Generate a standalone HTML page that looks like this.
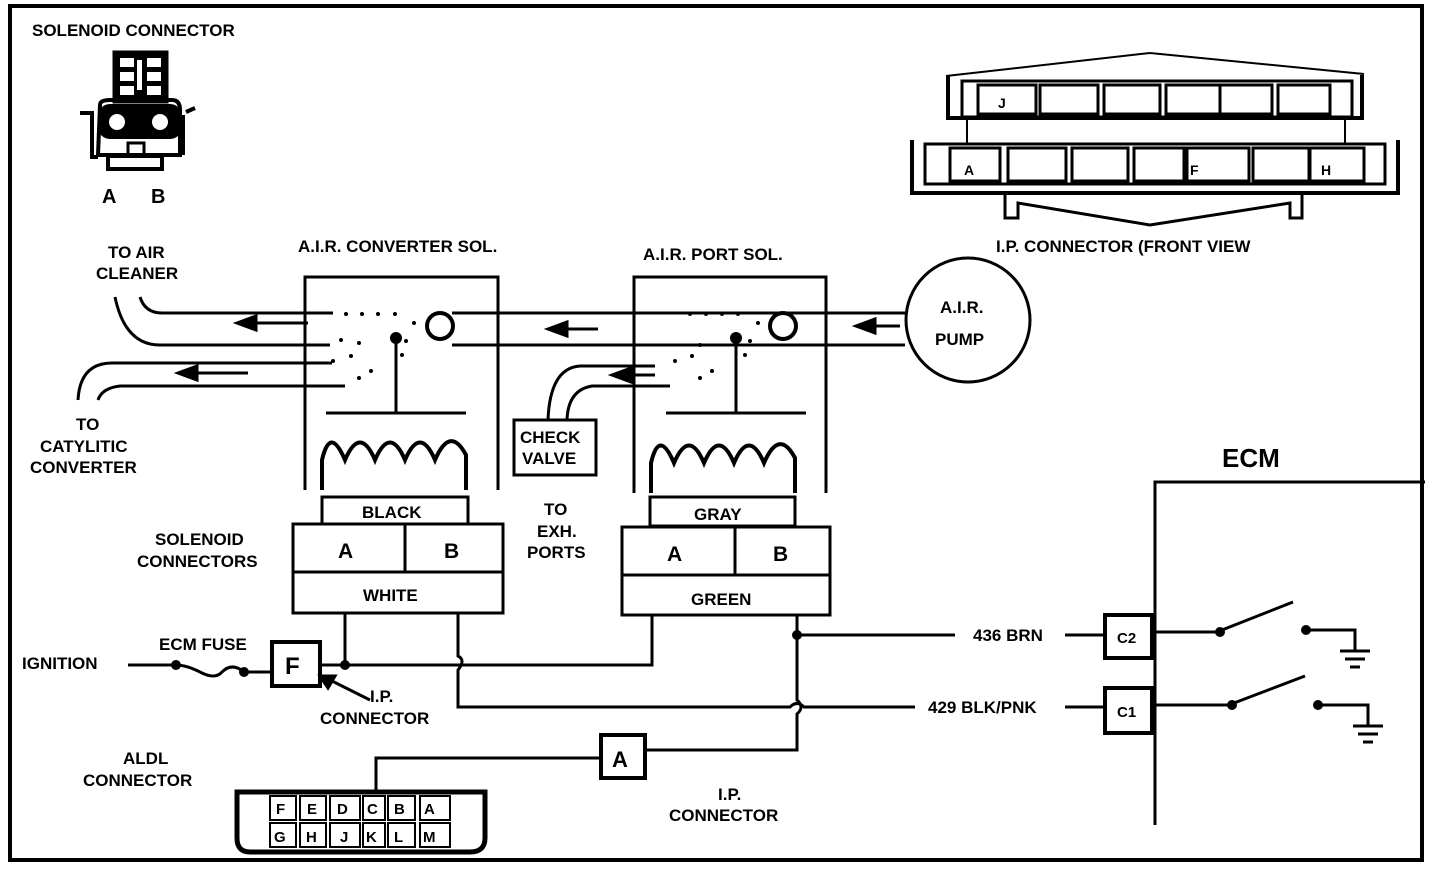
<!DOCTYPE html>
<html><head><style>body{margin:0;background:#fff}svg{display:block}text{font-family:"Liberation Sans",sans-serif;font-weight:bold;fill:#000}</style></head><body>
<svg width="1440" height="882" viewBox="0 0 1440 882" xmlns="http://www.w3.org/2000/svg">
<g fill="none" stroke="#000" stroke-width="3">
<rect x="10" y="6" width="1412" height="854" stroke-width="4"/>
<!-- solenoid connector icon -->
<rect x="114" y="52" width="53" height="50" fill="#000"/>
<rect x="120" y="58" width="14" height="9" fill="#fff" stroke="none"/><rect x="147" y="58" width="14" height="9" fill="#fff" stroke="none"/>
<rect x="120" y="72" width="14" height="9" fill="#fff" stroke="none"/><rect x="147" y="72" width="14" height="9" fill="#fff" stroke="none"/>
<rect x="120" y="86" width="14" height="9" fill="#fff" stroke="none"/><rect x="147" y="86" width="14" height="9" fill="#fff" stroke="none"/>
<rect x="137" y="60" width="5" height="30" fill="#fff" stroke="none"/>
<path d="M100 105 Q100 100 110 100 L172 100 Q180 100 180 110 L180 155 L98 155 Z" stroke-width="4"/>
<path d="M80 113 L92 113 L92 157 L98 157 M186 112 L195 108 M183 115 L183 155" stroke-width="4"/>
<rect x="98" y="104" width="84" height="35" rx="12" fill="#000" stroke="none"/>
<circle cx="117" cy="122" r="8" fill="#fff" stroke="none"/><circle cx="160" cy="122" r="8" fill="#fff" stroke="none"/>
<rect x="128" y="143" width="16" height="12" stroke-width="3"/>
<rect x="108" y="156" width="54" height="13" stroke-width="4"/>
<!-- pipes -->
<path d="M140 297 Q145 313 162 313 L333 313"/>
<path d="M115 297 Q125 345 160 345 L330 345"/>
<path d="M332 363 L112 363 Q80 363 78 400"/>
<path d="M345 386 L120 386 Q102 388 98 400"/>
<path d="M452 313 L905 313 M452 345 L905 345"/>
<line x1="308" y1="323" x2="250" y2="323"/><path d="M237 323 L256 316 L256 330 Z" fill="#000"/>
<line x1="248" y1="373" x2="192" y2="373"/><path d="M178 373 L197 366 L197 380 Z" fill="#000"/>
<line x1="598" y1="329" x2="562" y2="329"/><path d="M548 329 L567 322 L567 336 Z" fill="#000"/>
<line x1="900" y1="326" x2="870" y2="326"/><path d="M856 326 L875 319 L875 333 Z" fill="#000"/>
<path d="M655 366 L580 366 Q550 368 548 420"/>
<path d="M670 386 L592 386 Q568 390 567 420"/>
<line x1="655" y1="375" x2="626" y2="375"/><path d="M612 375 L631 368 L631 382 Z" fill="#000"/>
<circle cx="440" cy="326" r="13" stroke-width="4"/><circle cx="783" cy="326" r="13" stroke-width="4"/>
<circle cx="968" cy="320" r="62"/>
<!-- solenoid boxes -->
<path d="M305 490 L305 277 L498 277 L498 490"/>
<path d="M634 493 L634 277 L826 277 L826 493"/>
<line x1="396" y1="338" x2="396" y2="412"/><line x1="326" y1="413" x2="466" y2="413"/>
<line x1="736" y1="338" x2="736" y2="412"/><line x1="666" y1="413" x2="806" y2="413"/>
<path d="M322 490 L322 460 Q330 425 345 460 Q360 425 375 460 Q390 425 405 460 Q420 425 435 460 Q450 425 466 455 L466 490" stroke-width="4"/>
<path d="M651 493 L651 463 Q659 428 674 463 Q689 428 704 463 Q719 428 734 463 Q749 428 764 463 Q779 428 795 458 L795 493" stroke-width="4"/>
<rect x="322" y="497" width="146" height="27"/>
<rect x="293" y="524" width="210" height="48"/><line x1="405" y1="524" x2="405" y2="572"/>
<rect x="293" y="572" width="210" height="41"/>
<rect x="650" y="497" width="145" height="29"/>
<rect x="622" y="527" width="208" height="48"/><line x1="735" y1="527" x2="735" y2="575"/>
<rect x="622" y="575" width="208" height="40"/>
<rect x="514" y="420" width="82" height="55"/>
<!-- wiring -->
<line x1="345" y1="613" x2="345" y2="665"/>
<path d="M320 665 L652 665 L652 615"/>
<path d="M458 613 L458 656 Q466 660 458 670 L458 707 L790 707 Q797 700 804 707 L915 707"/>
<path d="M797 615 L797 700 Q805 707 797 714 L797 750 L645 750"/>
<line x1="797" y1="635" x2="955" y2="635"/>
<path d="M601 758 L376 758 L376 790"/>
<rect x="601" y="735" width="44" height="43" stroke-width="4"/>
<rect x="272" y="642" width="48" height="44" stroke-width="4"/>
<line x1="128" y1="665" x2="176" y2="665"/>
<path d="M176 665 Q186 665 200 672 Q215 680 222 672 Q232 662 244 672 L272 672" />
<line x1="370" y1="700" x2="330" y2="680"/><path d="M320 676 L335 676 L328 688 Z" fill="#000"/>
<!-- ECM -->
<path d="M1155 825 L1155 482 L1425 482"/>
<line x1="1065" y1="635" x2="1105" y2="635"/><line x1="1065" y1="707" x2="1105" y2="707"/>
<rect x="1105" y="615" width="47" height="43" stroke-width="4"/>
<rect x="1105" y="688" width="47" height="45" stroke-width="4"/>
<line x1="1152" y1="632" x2="1220" y2="632"/><line x1="1222" y1="630" x2="1293" y2="602"/>
<path d="M1306 630 L1355 630 L1355 650 M1340 651 L1370 651 M1345 659 L1365 659 M1350 667 L1360 667"/>
<line x1="1152" y1="705" x2="1232" y2="705"/><line x1="1234" y1="703" x2="1305" y2="676"/>
<path d="M1318 705 L1368 705 L1368 725 M1353 726 L1383 726 M1358 734 L1378 734 M1363 742 L1373 742"/>
<!-- ALDL -->
<path d="M237 792 L485 792 L485 838 Q485 852 470 852 L250 852 Q237 852 237 838 Z" stroke-width="5"/>
<g stroke-width="2"><rect x="270" y="796" width="26" height="24"/><rect x="300" y="796" width="26" height="24"/><rect x="330" y="796" width="30" height="24"/><rect x="363" y="796" width="22" height="24"/><rect x="388" y="796" width="27" height="24"/><rect x="420" y="796" width="30" height="24"/>
<rect x="270" y="823" width="26" height="24"/><rect x="300" y="823" width="26" height="24"/><rect x="330" y="823" width="30" height="24"/><rect x="363" y="823" width="22" height="24"/><rect x="388" y="823" width="27" height="24"/><rect x="420" y="823" width="30" height="24"/></g>
<!-- IP connector -->
<path d="M946 76 L1150 53 L1364 74" stroke-width="2"/>
<path d="M912 140 L912 193 L1398 193 L1398 140" stroke-width="4"/>
<path d="M948 75 L948 118 L1362 118 L1362 75" stroke-width="4"/>
<rect x="962" y="81" width="390" height="36" stroke-width="3"/>
<rect x="925" y="144" width="460" height="40" stroke-width="3"/>
<g stroke-width="3"><rect x="978" y="85" width="58" height="29"/><rect x="1040" y="85" width="58" height="29"/><rect x="1104" y="85" width="56" height="29"/><rect x="1166" y="85" width="54" height="29"/><rect x="1220" y="85" width="52" height="29"/><rect x="1278" y="85" width="52" height="29"/>
<rect x="950" y="148" width="50" height="33"/><rect x="1008" y="148" width="58" height="33"/><rect x="1072" y="148" width="56" height="33"/><rect x="1134" y="148" width="50" height="33"/><rect x="1187" y="148" width="62" height="33"/><rect x="1253" y="148" width="56" height="33"/><rect x="1310" y="148" width="54" height="33"/></g>
<path d="M967 118 L967 144 M1345 118 L1345 144" stroke-width="2"/>
<path d="M1005 193 L1005 218 L1018 218 L1018 203 L1150 225 L1290 203 L1290 218 L1302 218 L1302 193" stroke-width="3"/>
</g>
<g fill="#000">
<circle cx="396" cy="338" r="6"/><circle cx="736" cy="338" r="6"/>
<circle cx="345" cy="665" r="5"/><circle cx="176" cy="665" r="5"/><circle cx="244" cy="672" r="5"/><circle cx="797" cy="635" r="5"/>
<circle cx="1220" cy="632" r="5"/><circle cx="1306" cy="630" r="5"/><circle cx="1232" cy="705" r="5"/><circle cx="1318" cy="705" r="5"/>
</g>
<g fill="#000"><circle cx="346" cy="314" r="2"/><circle cx="362" cy="314" r="2"/><circle cx="378" cy="314" r="2"/><circle cx="395" cy="314" r="2"/><circle cx="341" cy="340" r="2"/><circle cx="359" cy="343" r="2"/><circle cx="351" cy="356" r="2"/><circle cx="333" cy="361" r="2"/><circle cx="371" cy="371" r="2"/><circle cx="359" cy="378" r="2"/><circle cx="402" cy="355" r="2"/><circle cx="406" cy="341" r="2"/><circle cx="414" cy="323" r="2"/>
<circle cx="690" cy="314" r="2"/><circle cx="706" cy="314" r="2"/><circle cx="722" cy="314" r="2"/><circle cx="738" cy="314" r="2"/><circle cx="700" cy="345" r="2"/><circle cx="692" cy="356" r="2"/><circle cx="675" cy="361" r="2"/><circle cx="712" cy="371" r="2"/><circle cx="700" cy="378" r="2"/><circle cx="745" cy="355" r="2"/><circle cx="750" cy="341" r="2"/><circle cx="758" cy="323" r="2"/></g>
<g font-size="17">
<text x="32" y="36">SOLENOID CONNECTOR</text>
<text x="102" y="203" font-size="20">A</text><text x="151" y="203" font-size="20">B</text>
<text x="108" y="258">TO AIR</text><text x="96" y="279">CLEANER</text>
<text x="298" y="252">A.I.R. CONVERTER SOL.</text>
<text x="643" y="260">A.I.R. PORT SOL.</text>
<text x="996" y="252">I.P. CONNECTOR (FRONT VIEW</text>
<text x="940" y="313">A.I.R.</text><text x="935" y="345">PUMP</text>
<text x="76" y="430">TO</text><text x="40" y="452">CATYLITIC</text><text x="30" y="473">CONVERTER</text>
<text x="520" y="443">CHECK</text><text x="522" y="464">VALVE</text>
<text x="544" y="515">TO</text><text x="537" y="537">EXH.</text><text x="527" y="558">PORTS</text>
<text x="362" y="518">BLACK</text><text x="694" y="520">GRAY</text>
<text x="338" y="558" font-size="21">A</text><text x="444" y="558" font-size="21">B</text>
<text x="667" y="561" font-size="21">A</text><text x="773" y="561" font-size="21">B</text>
<text x="363" y="601">WHITE</text><text x="691" y="605">GREEN</text>
<text x="155" y="545">SOLENOID</text><text x="137" y="567">CONNECTORS</text>
<text x="159" y="650">ECM FUSE</text><text x="22" y="669">IGNITION</text>
<text x="285" y="674" font-size="24">F</text><text x="612" y="767" font-size="22">A</text>
<text x="370" y="702">I.P.</text><text x="320" y="724">CONNECTOR</text>
<text x="123" y="764">ALDL</text><text x="83" y="786">CONNECTOR</text>
<text x="718" y="800">I.P.</text><text x="669" y="821">CONNECTOR</text>
<text x="1222" y="467" font-size="26">ECM</text>
<text x="973" y="641">436 BRN</text><text x="928" y="713">429 BLK/PNK</text>
<text x="1117" y="643" font-size="15">C2</text><text x="1117" y="717" font-size="15">C1</text>
<text x="964" y="175" font-size="14">A</text><text x="1190" y="175" font-size="14">F</text><text x="1321" y="175" font-size="14">H</text><text x="998" y="108" font-size="14">J</text>
</g>
<g font-size="15">
<text x="276" y="814">F</text><text x="307" y="814">E</text><text x="337" y="814">D</text><text x="367" y="814">C</text><text x="394" y="814">B</text><text x="424" y="814">A</text>
<text x="274" y="842">G</text><text x="306" y="842">H</text><text x="340" y="842">J</text><text x="366" y="842">K</text><text x="394" y="842">L</text><text x="423" y="842">M</text>
</g>
</svg>
</body></html>
